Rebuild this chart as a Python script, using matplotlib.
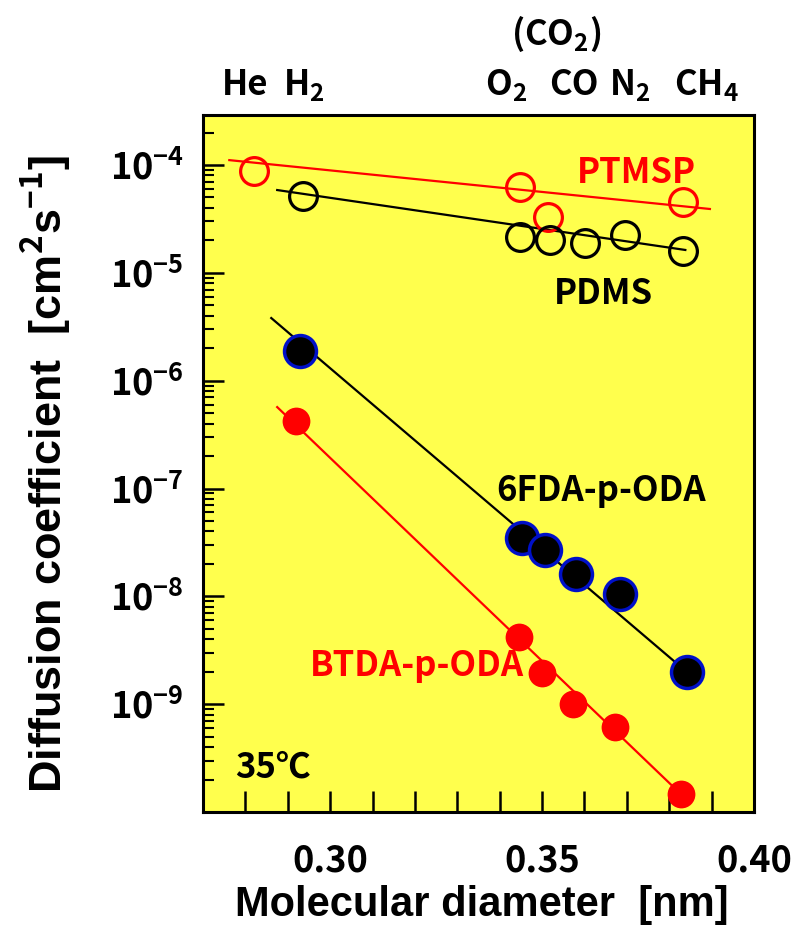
import numpy as np
import matplotlib
matplotlib.use("Agg")
import matplotlib.pyplot as plt
from matplotlib.ticker import FixedLocator, NullFormatter, LogLocator

# ================================
# Data
# ================================
ptmsp_x = [0.2821, 0.3447, 0.3515, 0.3833]
ptmsp_d = [8.8e-5, 6.25e-5, 3.3e-5, 4.54e-5]

pdms_x = [0.2936, 0.3447, 0.3518, 0.3602, 0.3696, 0.3833]
pdms_d = [5.15e-5, 2.15e-5, 2.01e-5, 1.89e-5, 2.24e-5, 1.59e-5]

fda_x = [0.2929, 0.3452, 0.3506, 0.3581, 0.3685, 0.3842]
fda_d = [1.88e-6, 3.47e-8, 2.69e-8, 1.61e-8, 1.05e-8, 1.98e-9]

btda_x = [0.2920, 0.3445, 0.3501, 0.3574, 0.3673, 0.3828]
btda_d = [4.2e-7, 4.2e-9, 1.94e-9, 1.0e-9, 6.1e-10, 1.46e-10]

# fitted lines (end points)
ptmsp_fit_x = [0.2762, 0.3896]
ptmsp_fit_d = [1.11e-4, 3.91e-5]
pdms_fit_x = [0.2875, 0.3838]
pdms_fit_d = [5.86e-5, 1.63e-5]
fda_fit_x = [0.2861, 0.3842]
fda_fit_d = [3.81e-6, 1.98e-9]
btda_fit_x = [0.2875, 0.3828]
btda_fit_d = [5.69e-7, 1.46e-10]

gas_labels = ["He", "H$_2$", "O$_2$", "CO", "N$_2$", "CH$_4$"]
gas_label_x = [0.2800, 0.2939, 0.3416, 0.3574, 0.3706, 0.3889]

x_ticks = [0.30, 0.35, 0.40]
x_tick_labels = ["0.30", "0.35", "0.40"]
y_exps = [-9, -8, -7, -6, -5, -4]

# ================================
# Fonts
# ================================
cond = "Noto Sans CJK JP"
plt.rcParams["font.family"] = [cond, "DejaVu Sans"]
plt.rcParams["mathtext.fontset"] = "custom"
plt.rcParams["mathtext.rm"] = cond + ":bold"
plt.rcParams["mathtext.bf"] = cond + ":bold"
plt.rcParams["mathtext.it"] = cond + ":bold"

# ================================
# Plot
# ================================
fig = plt.figure(figsize=(7.94, 9.31), dpi=100)
ax = fig.add_axes([0.2557, 0.1278, 0.6939, 0.7487])
ax.set_facecolor("#ffff4d")

ax.set_yscale("log")
ax.set_xlim(0.27, 0.40)
ax.set_ylim(1e-10, 10 ** -3.536)

# fit lines
ax.plot(ptmsp_fit_x, ptmsp_fit_d, color="red", lw=1.6, zorder=2)
ax.plot(pdms_fit_x, pdms_fit_d, color="black", lw=1.6, zorder=2)
ax.plot(fda_fit_x, fda_fit_d, color="black", lw=1.6, zorder=2)
ax.plot(btda_fit_x, btda_fit_d, color="red", lw=1.6, zorder=2)

# markers
ax.plot(ptmsp_x, ptmsp_d, "o", ms=20, mfc="none", mec="red", mew=2.3, zorder=3)
ax.plot(pdms_x, pdms_d, "o", ms=20, mfc="none", mec="black", mew=2.3, zorder=3)
ax.plot(fda_x, fda_d, "o", ms=23, mfc="black", mec="#0010c8", mew=2.5, zorder=3)
ax.plot(btda_x, btda_d, "o", ms=20, mfc="red", mec="red", mew=0, zorder=3)

# annotations
tk = dict(fontsize=25, fontweight="bold")
ax.text(0.3722, 10 ** -4.065, "PTMSP", color="red", ha="center", va="center", **tk)
ax.text(0.3645, 10 ** -5.19, "PDMS", color="black", ha="center", va="center", **tk)
ax.text(0.3640, 10 ** -7.02, "6FDA-p-ODA", color="black", ha="center", va="center", **tk)
ax.text(0.3205, 10 ** -8.64, "BTDA-p-ODA", color="red", ha="center", va="center", **tk)
ax.text(0.2864, 10 ** -9.58, "35℃", color="black", ha="center", va="center", **tk)

# gas labels on top
for lab, gx in zip(gas_labels, gas_label_x):
    ax.text(gx, 1.029, lab, transform=ax.get_xaxis_transform(), ha="center",
            va="baseline", fontsize=25, fontweight="bold", clip_on=False)
ax.text(0.3534, 1.100, "(CO$_2$)", transform=ax.get_xaxis_transform(), ha="center",
        va="baseline", fontsize=25, fontweight="bold", clip_on=False)

# ticks
ax.xaxis.set_major_locator(FixedLocator(x_ticks))
ax.set_xticklabels(x_tick_labels)
ax.xaxis.set_minor_locator(FixedLocator(np.arange(0.27, 0.4001, 0.01)))
ax.yaxis.set_major_locator(FixedLocator([10.0 ** e for e in y_exps]))
ax.set_yticklabels([r"$10^{%d}$" % e for e in y_exps])
ax.yaxis.set_minor_locator(LogLocator(base=10, subs=np.arange(2, 10), numticks=20))
ax.yaxis.set_minor_formatter(NullFormatter())

ax.tick_params(axis="x", which="both", direction="in", length=15, width=1.8,
               top=False, pad=22, labelsize=26)
ax.tick_params(axis="y", which="major", direction="in", length=15, width=1.8,
               right=False, pad=14, labelsize=26)
ax.tick_params(axis="y", which="minor", direction="in", length=8, width=1.5, right=False)
for t in ax.get_xticklabels() + ax.get_yticklabels():
    t.set_fontweight("bold")

for s in ax.spines.values():
    s.set_linewidth(2.2)

# axis titles
fig.text(482 / 794, 1 - 905 / 931, "Molecular diameter  [nm]", ha="center", va="center",
         fontsize=30, fontweight="bold", family="Liberation Sans")
fig.text(45 / 794, 1 - 474 / 931, "Diffusion coefficient  [cm$^2$s$^{-1}$]", ha="center",
         va="center", rotation=90, fontsize=32.5, fontweight="bold", family="Liberation Sans")

fig.savefig("out.png", dpi=100, facecolor="white")
